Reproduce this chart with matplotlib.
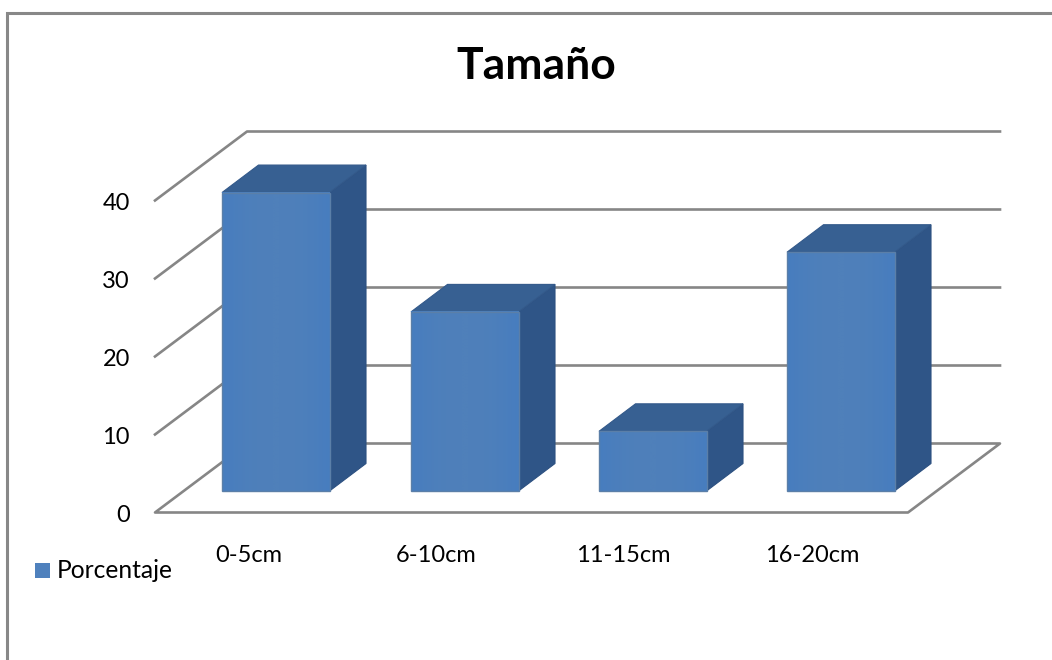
import matplotlib.pyplot as plt
from matplotlib.colors import LinearSegmentedColormap
from matplotlib.patches import Polygon, Rectangle
import numpy as np

plt.rcParams['font.family'] = ['Lato', 'DejaVu Sans']

# Data
categories = ['0-5cm', '6-10cm', '11-15cm', '16-20cm']
porcentaje = [38.46, 23.08, 7.69, 30.77]
y_ticks = [0, 10, 20, 30, 40]

# Box geometry in pixels
floor_left, floor_right, floor_y = 155, 908, 512.5
box_dx, box_dy = 92, 69
px_per_unit = 7.8
bar_scale = 7.76
bar_lefts = [222, 411, 599, 787]
bar_w = 107.5
bar_base = 491
bar_dx, bar_dy = 36.5, 27.5

GRID = '#868686'
SIDE = '#2f5587'
TOP = '#376092'
front_cmap = LinearSegmentedColormap.from_list('front', ['#4f80ba', '#477dbf'])


fig = plt.figure(figsize=(10.52, 6.6), dpi=100)
ax = fig.add_axes([0, 0, 1, 1])

# Chart border (top and left only)
ax.plot([7, 7, 1052], [660, 13, 13], color='#888888', lw=2.2, solid_joinstyle='miter')

# Side wall diagonals and back wall gridlines, one set per tick above zero
for t in y_ticks[1:]:
    y = floor_y - t * px_per_unit
    ax.plot([floor_left, floor_left + box_dx, floor_right + box_dx],
            [y, y - box_dy, y - box_dy], color=GRID, lw=1.9, zorder=1)

# Tick labels
for t in y_ticks:
    ax.text(130, floor_y - t * px_per_unit + 2.5, str(t), ha='right', va='center',
            fontsize=17, color='black')

# Floor
ax.plot([floor_left + box_dx, floor_left, floor_right, floor_right + box_dx, floor_left + box_dx],
        [floor_y - box_dy, floor_y, floor_y, floor_y - box_dy, floor_y - box_dy],
        color=GRID, lw=1.9, zorder=1)

# Bars, the front face slightly more saturated towards its edges
gradient = (np.linspace(-1, 1, 64) ** 2).reshape(1, -1)
for left, val in zip(bar_lefts, porcentaje):
    right = left + bar_w
    top = bar_base - val * bar_scale
    ax.add_patch(Polygon([(right, bar_base), (right + bar_dx, bar_base - bar_dy),
                          (right + bar_dx, top - bar_dy), (right, top)],
                         closed=True, facecolor=SIDE, edgecolor='#2c5080', lw=0.8, zorder=3))
    ax.add_patch(Polygon([(left, top), (left + bar_dx, top - bar_dy),
                          (right + bar_dx, top - bar_dy), (right, top)],
                         closed=True, facecolor=TOP, edgecolor='#33598a', lw=0.8, zorder=3))
    ax.imshow(gradient, extent=(left, right, bar_base, top), cmap=front_cmap, aspect='auto',
              interpolation='bilinear', zorder=4)
    ax.add_patch(Rectangle((left, top), bar_w, bar_base - top, facecolor='none',
                           edgecolor='#5b7fa8', lw=1.0, zorder=5))

ax.set_xlim(0, 1052)
ax.set_ylim(660, 0)
ax.axis('off')

# Category labels
label_x = [249, 436.5, 623.5, 812.5]
for x, c in zip(label_x, categories):
    ax.text(x, 555, c, ha='center', va='center', fontsize=17, color='black')

# Legend
ax.add_patch(Rectangle((35, 563), 15, 15, facecolor='#4f81bd', edgecolor='none'))
ax.text(57, 571, 'Porcentaje', ha='left', va='center', fontsize=17.7, color='black')

# Title
ax.text(536, 66, 'Tamaño', ha='center', va='center', fontsize=32, fontweight='bold', color='black')

fig.savefig('out.png', dpi=100)
